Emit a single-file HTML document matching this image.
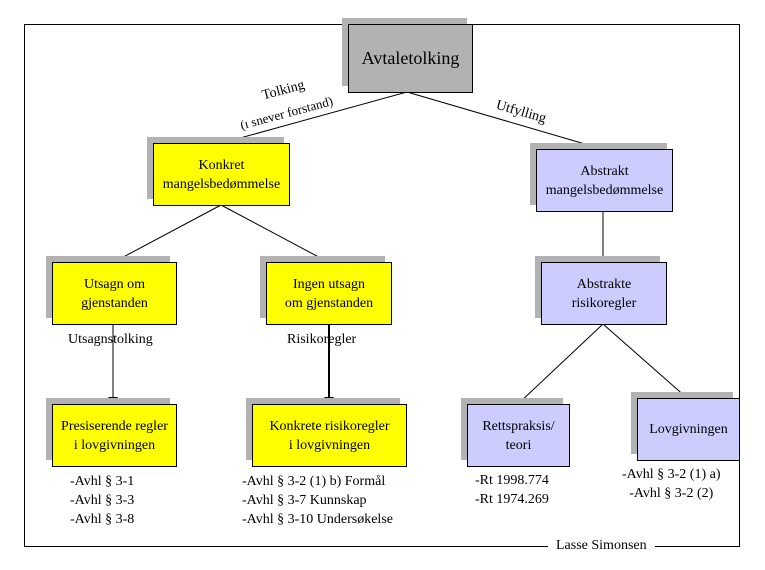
<!DOCTYPE html>
<html><head><meta charset="utf-8"><style>
body{margin:0;width:765px;height:570px;background:#fff;position:relative;overflow:hidden;font-family:"Liberation Serif",serif;font-size:14px;color:#000}
.f{position:absolute;left:24px;top:24px;width:714px;height:521px;border:1px solid #000}
.s{position:absolute;background:#b2b2b2}
.b{position:absolute;border:1px solid #000;box-sizing:border-box;display:flex;align-items:center;justify-content:center;text-align:center;line-height:19px}
.y{background:#ffff00}.p{background:#ccccff}.g{background:#b2b2b2}
.t{position:absolute;line-height:19px;white-space:nowrap}
</style></head><body>
<div class="f"></div>
<svg width="765" height="570" style="position:absolute;left:0;top:0">
<g stroke="#000" stroke-width="1" fill="none">
<line x1="407" y1="92" x2="222" y2="143"/>
<line x1="407" y1="92" x2="602" y2="149"/>
<line x1="221" y1="205" x2="114" y2="262"/>
<line x1="221" y1="205" x2="328" y2="262"/>
<line x1="603" y1="211" x2="603" y2="262"/>
<line x1="603" y1="324" x2="518" y2="404"/>
<line x1="603" y1="324" x2="687" y2="398"/>
<line x1="113" y1="324" x2="113" y2="397"/>
<line x1="329" y1="324" x2="329" y2="397" stroke-width="2"/>
</g>
<polygon points="108,397 118,397 113,404" fill="#000"/>
<polygon points="324,397 334,397 329,404" fill="#000"/>
</svg>
<div class="s" style="left:342px;top:18px;width:125px;height:68px"></div>
<div class="b g" style="left:348px;top:24px;width:125px;height:69px;font-size:18px">Avtaletolking</div>
<div class="s" style="left:147px;top:137px;width:137px;height:62px"></div>
<div class="b y" style="left:153px;top:143px;width:137px;height:63px">Konkret<br>mangelsbedømmelse</div>
<div class="s" style="left:530px;top:143px;width:137px;height:62px"></div>
<div class="b p" style="left:536px;top:149px;width:137px;height:63px">Abstrakt<br>mangelsbedømmelse</div>
<div class="s" style="left:46px;top:256px;width:124px;height:62px"></div>
<div class="b y" style="left:52px;top:262px;width:125px;height:63px">Utsagn om<br>gjenstanden</div>
<div class="s" style="left:260px;top:256px;width:125px;height:62px"></div>
<div class="b y" style="left:266px;top:262px;width:126px;height:63px">Ingen utsagn<br>om gjenstanden</div>
<div class="s" style="left:535px;top:256px;width:125px;height:62px"></div>
<div class="b p" style="left:541px;top:262px;width:126px;height:63px">Abstrakte<br>risikoregler</div>
<div class="s" style="left:46px;top:398px;width:124px;height:62px"></div>
<div class="b y" style="left:52px;top:404px;width:125px;height:63px">Presiserende regler<br>i lovgivningen</div>
<div class="s" style="left:246px;top:398px;width:154px;height:62px"></div>
<div class="b y" style="left:252px;top:404px;width:155px;height:63px">Konkrete risikoregler<br>i lovgivningen</div>
<div class="s" style="left:461px;top:398px;width:102px;height:62px"></div>
<div class="b p" style="left:467px;top:404px;width:103px;height:63px">Rettspraksis/<br>teori</div>
<div class="s" style="left:631px;top:392px;width:102px;height:62px"></div>
<div class="b p" style="left:637px;top:398px;width:103px;height:63px">Lovgivningen</div>
<div class="t" style="left:68px;top:330px">Utsagnstolking</div>
<div class="t" style="left:287px;top:330px">Risikoregler</div>
<div class="t" style="left:70px;top:472px">-Avhl § 3-1<br>-Avhl § 3-3<br>-Avhl § 3-8</div>
<div class="t" style="left:242px;top:472px">-Avhl § 3-2 (1) b) Formål<br>-Avhl § 3-7 Kunnskap<br>-Avhl § 3-10 Undersøkelse</div>
<div class="t" style="left:475px;top:471px">-Rt 1998.774<br>-Rt 1974.269</div>
<div class="t" style="left:622px;top:465px;text-align:center">-Avhl § 3-2 (1) a)<br>-Avhl § 3-2 (2)</div>
<div class="t" style="left:548px;top:536px;background:#fff;padding:0 8px">Lasse Simonsen</div>
<div class="t" style="left:260px;top:87px;transform:rotate(-15deg);transform-origin:left top">Tolking</div>
<div class="t" style="left:238px;top:116px;transform:rotate(-15deg);transform-origin:left top;font-size:13px">(ı snever forstand)</div>
<div class="t" style="left:499px;top:96px;transform:rotate(16deg);transform-origin:left top">Utfylling</div>
</body></html>
